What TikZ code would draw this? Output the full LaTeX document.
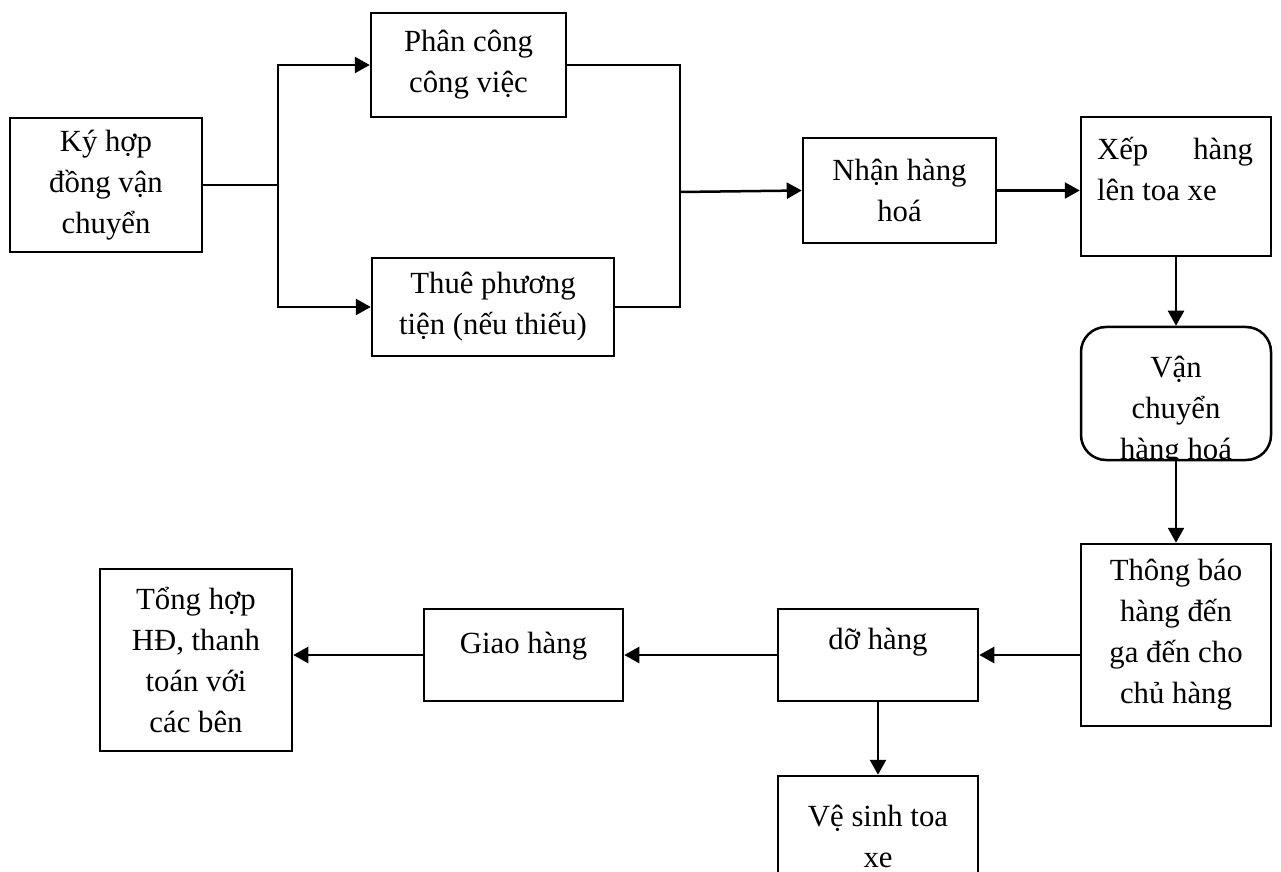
\documentclass[tikz,border=0pt]{standalone}
\usepackage{fontspec}
\setmainfont{Liberation Serif}
\usetikzlibrary{positioning, arrows.meta}

\tikzset{
  box/.style={draw, line width=0.5mm, align=center, inner sep=0pt},
  rbox/.style={box, rounded corners=5mm},
  arr/.style={-{Triangle[length=3mm, width=3.2mm]}, line width=0.5mm},
  toplbl/.style={anchor=north, inner sep=0pt, align=center},
}

\begin{document}
\begin{tikzpicture}[x=0.2mm, y=-0.2mm, font=\fontsize{17.5}{23.3}\selectfont]
        \useasboundingbox (0,0) rectangle (1281,872);

        \node[box, minimum width=38.4mm, minimum height=26.8mm] (kyhd) at (106, 185) {Ký hợp\\đồng vận\\chuyển};
        \node[box, minimum width=39mm, minimum height=20.8mm] (phancong) at (468.5, 65) {Phân công\\công việc};
        \node[box, minimum width=48.4mm, minimum height=19.6mm] (thue) at (493, 307) {Thuê phương\\tiện (nếu thiếu)};
        \node[box, minimum width=38.6mm, minimum height=21mm] (nhan) at (899.5, 190.5) {Nhận hàng\\hoá};
        \node[box, minimum width=38mm, minimum height=27.8mm,
              label={[toplbl, anchor=north west, align=left, xshift=3.4mm, yshift=-4.2mm]north west:{\makebox[31.2mm][s]{Xếp\hfill hàng}\\lên toa xe}}] (xep) at (1176, 186.5) {};
        \node[rbox, minimum width=38mm, minimum height=26.6mm] (van) at (1176, 393.5) {};
        \begin{scope}
            \clip ([yshift=0.6mm]van.south west) rectangle (van.north east);
            \node[toplbl] (vantxt) at ([yshift=-6mm]van.north) {Vận\\chuyển\\hàng hoá};
        \end{scope}
        \node[box, minimum width=38mm, minimum height=36.4mm] (thongbao) at (1176, 635) {Thông báo\\hàng đến\\ga đến cho\\chủ hàng};
        \node[box, minimum width=40mm, minimum height=18.4mm,
              label={[toplbl, yshift=-4mm]north:{dỡ hàng}}] (doh) at (878, 655) {};
        \node[box, minimum width=39.8mm, minimum height=18.4mm,
              label={[toplbl, yshift=-4.8mm]north:{Giao hàng}}] (giao) at (523.5, 655) {};
        \node[box, minimum width=38.4mm, minimum height=36.4mm] (tonghop) at (196, 660) {Tổng hợp\\HĐ, thanh\\toán với\\các bên};
        \node[box, minimum width=40mm, minimum height=24mm] (vesinh) at (878, 836) {Vệ sinh toa\\xe};

        \coordinate (split) at (278, 185);
        \coordinate (join) at (680, 192);

        \draw[line width=0.5mm] (kyhd.east) -- (split);
        \draw[arr] (split) |- (phancong.west);
        \draw[arr] (split) |- (thue.west);
        \draw[line width=0.5mm] (phancong.east) -| (join) |- (thue.east);
        \draw[arr] (join) -- (nhan.west);
        \draw[arr] (nhan.east) -- (nhan.east -| xep.west);
        \draw[arr] (xep.south) -- (van.north);
        \draw[arr] (van.south) -- (thongbao.north);
        \draw[arr] (thongbao.west |- doh.east) -- (doh.east);
        \draw[arr] (doh.west) -- (giao.east);
        \draw[arr] (giao.west) -- (giao.west -| tonghop.east);
        \draw[arr] (doh.south) -- (vesinh.north);
    \end{tikzpicture}
\end{document}
